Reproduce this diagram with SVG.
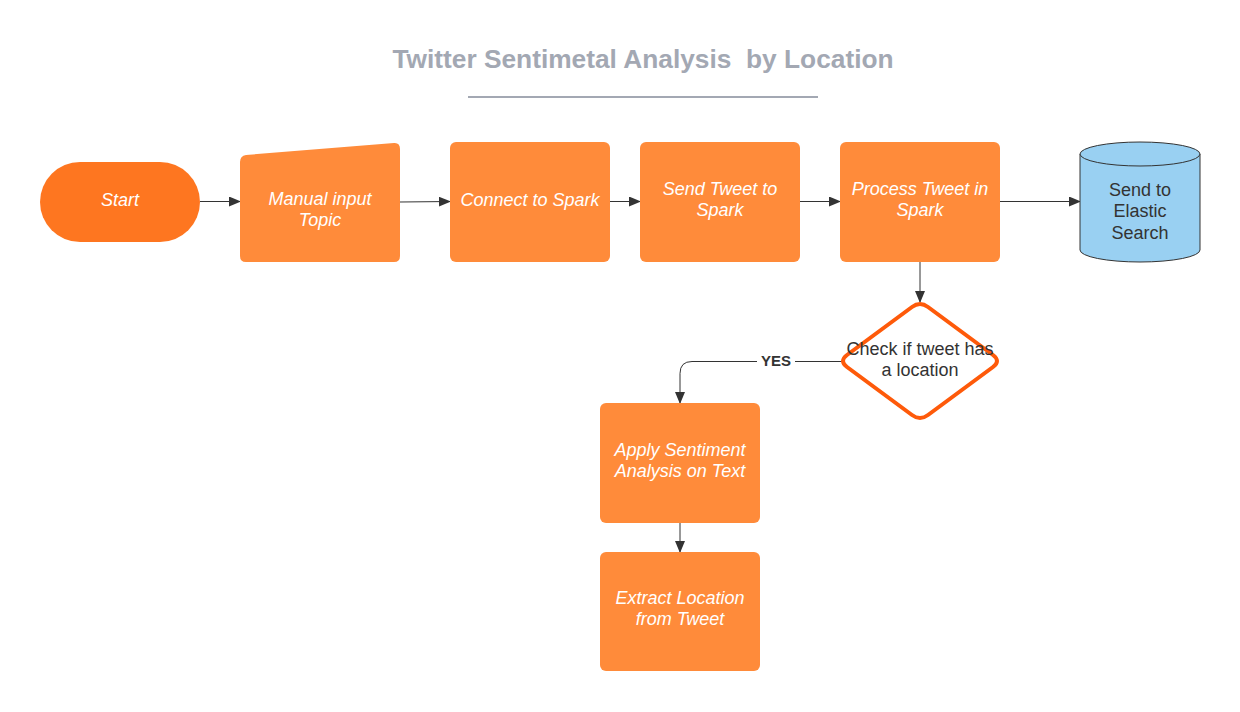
<svg xmlns="http://www.w3.org/2000/svg" width="1240" height="712" viewBox="0 0 1240 712">
<defs>
<marker id="arr" viewBox="0 0 12 10" refX="11" refY="5" markerWidth="12" markerHeight="10" markerUnits="userSpaceOnUse" orient="auto">
<path d="M0,0 L12,5 L0,10 Z" fill="#333"/>
</marker>
<style>
.box{fill:#ff8b3a;}
.lbl{font-family:"Liberation Sans",Arial,sans-serif;font-size:18px;font-style:italic;fill:#ffffff;text-anchor:middle;}
.dark{font-family:"Liberation Sans",Arial,sans-serif;font-size:18px;fill:#333333;text-anchor:middle;}
.conn{fill:none;stroke:#333;stroke-width:1;marker-end:url(#arr);}
</style>
</defs>
<rect width="1240" height="712" fill="#ffffff"/>
<g id="title">
<text x="643" y="68" font-family="Liberation Sans,Arial,sans-serif" font-size="26.3" font-weight="bold" fill="#a3a8b3" text-anchor="middle" xml:space="preserve">Twitter Sentimetal Analysis  by Location</text>
<line x1="468" y1="97" x2="818" y2="97" stroke="#a3a8b3" stroke-width="2"/>
</g>
<g id="connectors">
<path class="conn" d="M200,201.5 L240,201.5"/>
<path class="conn" d="M400,202 L450,201.5"/>
<path class="conn" d="M610,201.5 L640,201.5"/>
<path class="conn" d="M800,201.5 L840,201.5"/>
<path class="conn" d="M1000,201.5 L1080,201.5"/>
<path class="conn" d="M920,262 L920,302"/>
<path class="conn" d="M842,361.5 L692,361.5 Q680,361.5 680,373.5 L680,403"/>
<path class="conn" d="M680,523 L680,552"/>
<rect x="757" y="351" width="38" height="18" fill="#ffffff"/>
<text x="776" y="365.5" font-family="Liberation Sans,Arial,sans-serif" font-size="15" font-weight="bold" fill="#333" text-anchor="middle">YES</text>
</g>
<g id="start">
<rect x="40" y="162" width="160" height="80" rx="40" fill="#fe7620"/>
<text class="lbl" x="120" y="205.5">Start</text>
</g>
<g id="manual">
<path d="M246,155 L394,143 Q400,142.5 400,149 L400,256 Q400,262 394,262 L246,262 Q240,262 240,256 L240,162 Q240,156 246,155 Z" class="box"/>
<text class="lbl" x="320" y="205">Manual input</text>
<text class="lbl" x="320" y="226">Topic</text>
</g>
<g id="connect">
<rect class="box" x="450" y="142" width="160" height="120" rx="6"/>
<text class="lbl" x="530" y="205.5">Connect to Spark</text>
</g>
<g id="send">
<rect class="box" x="640" y="142" width="160" height="120" rx="6"/>
<text class="lbl" x="720" y="194.5">Send Tweet to</text>
<text class="lbl" x="720" y="215.5">Spark</text>
</g>
<g id="process">
<rect class="box" x="840" y="142" width="160" height="120" rx="6"/>
<text class="lbl" x="920" y="194.5">Process Tweet in</text>
<text class="lbl" x="920" y="215.5">Spark</text>
</g>
<g id="elastic">
<path d="M1080,154 L1080,250 A60,12 0 0 0 1200,250 L1200,154" fill="#99d0f2" stroke="#333" stroke-width="1"/>
<ellipse cx="1140" cy="154" rx="60" ry="12" fill="#99d0f2" stroke="#333" stroke-width="1"/>
<text class="dark" x="1140" y="196">Send to</text>
<text class="dark" x="1140" y="217">Elastic</text>
<text class="dark" x="1140" y="238.5">Search</text>
</g>
<g id="check">
<path d="M912,307 Q920,301 928,307 L993,355 Q1001,361 993,367 L928,415 Q920,421 912,415 L847,367 Q839,361 847,355 Z" fill="#ffffff" stroke="#fe5a0a" stroke-width="4" stroke-linejoin="round"/>
<text class="dark" x="920" y="355">Check if tweet has</text>
<text class="dark" x="920" y="376">a location</text>
</g>
<g id="apply">
<rect class="box" x="600" y="403" width="160" height="120" rx="6"/>
<text class="lbl" x="680" y="456">Apply Sentiment</text>
<text class="lbl" x="680" y="477">Analysis on Text</text>
</g>
<g id="extract">
<rect class="box" x="600" y="552" width="160" height="119" rx="6"/>
<text class="lbl" x="680" y="604">Extract Location</text>
<text class="lbl" x="680" y="625">from Tweet</text>
</g>
</svg>
